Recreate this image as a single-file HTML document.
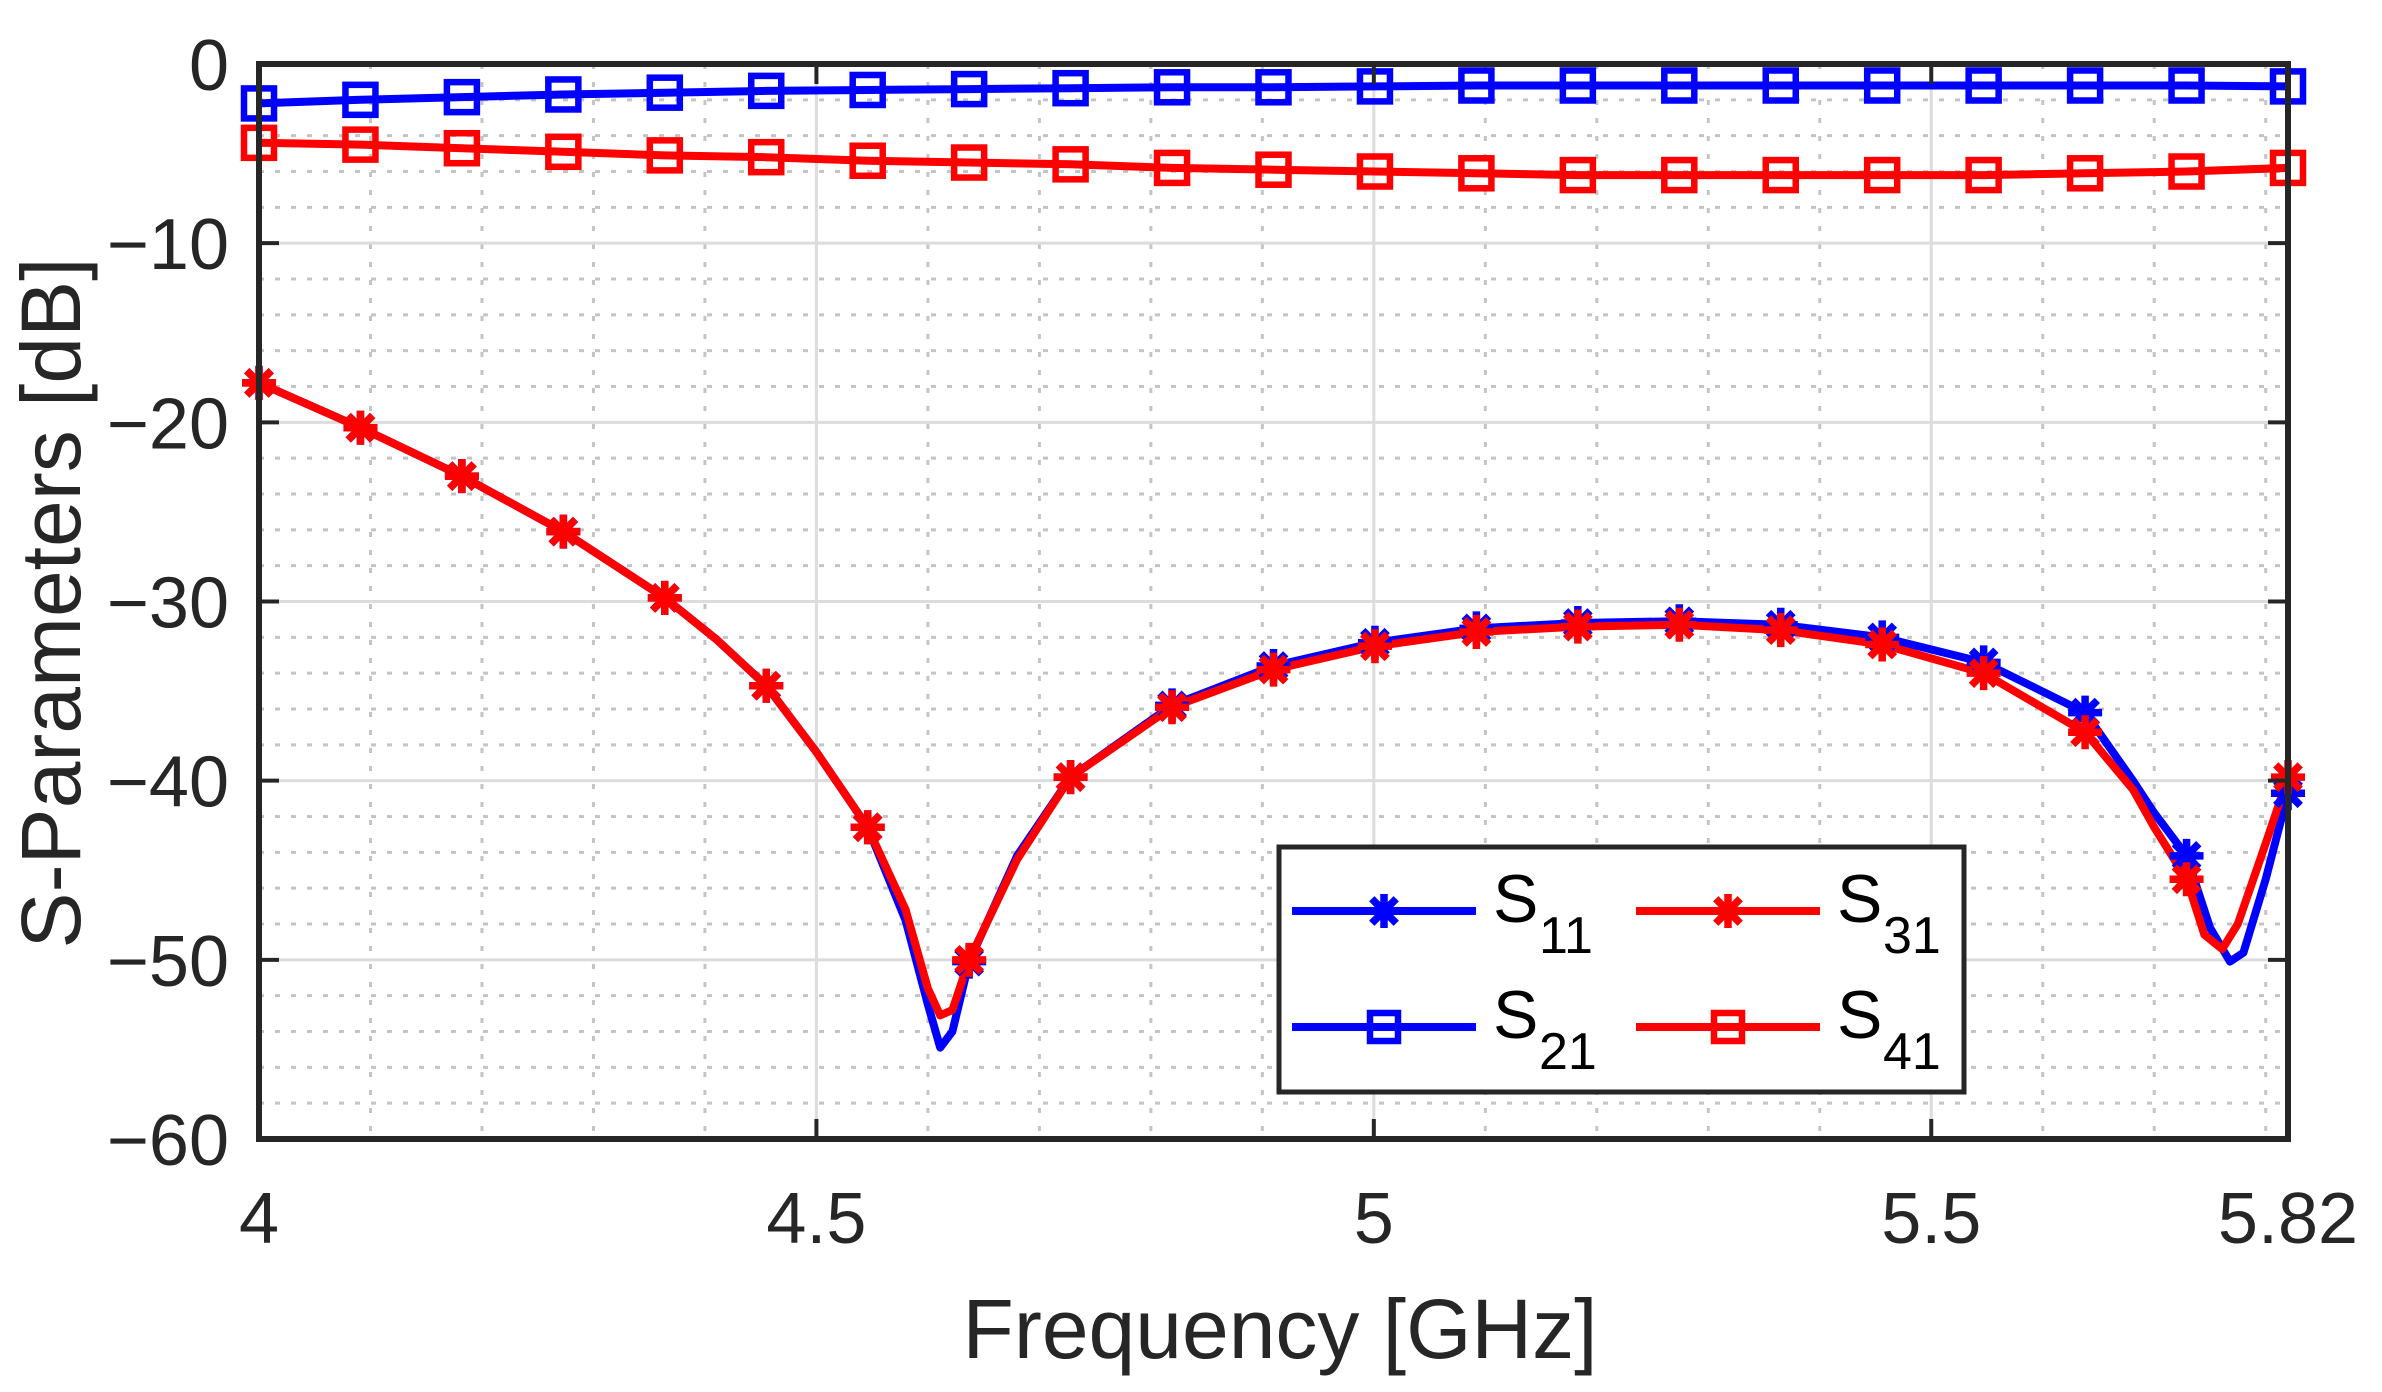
<!DOCTYPE html>
<html><head><meta charset="utf-8"><style>
html,body{margin:0;padding:0;background:#fff;}
svg{display:block;}
text{font-family:"Liberation Sans",Arial,sans-serif;fill:#262626;}
</style></head><body>
<svg id="s" width="2382" height="1392" viewBox="0 0 2382 1392" xmlns="http://www.w3.org/2000/svg">
<rect width="2382" height="1392" fill="#fff"/>
<g id="grid"></g>
<g id="data"></g>
<g id="axes"></g>
<g id="legend"></g>
</svg>
<script>
const NS="http://www.w3.org/2000/svg";
const L=259,R=2288,T=64,B=1139;
const X=f=>L+(f-4)*(R-L)/1.82;
const Y=d=>T-d*(B-T)/60;
function el(p,tag,a,txt){const e=document.createElementNS(NS,tag);for(const k in a)e.setAttribute(k,a[k]);if(txt!==undefined)e.textContent=txt;document.getElementById(p).appendChild(e);return e;}
for(let f=4.1;f<5.82;f+=0.1){if(Math.abs(f*2-Math.round(f*2))<1e-6)continue;el('grid','line',{x1:X(f),x2:X(f),y1:T,y2:B,stroke:'#c4c4c4','stroke-width':3,'stroke-dasharray':'5 13'});}
for(let d=-58;d<0;d+=2){if(d%10===0)continue;el('grid','line',{x1:L,x2:R,y1:Y(d),y2:Y(d),stroke:'#c4c4c4','stroke-width':3,'stroke-dasharray':'5 11'});}
for(const f of [4.5,5,5.5])el('grid','line',{x1:X(f),x2:X(f),y1:T,y2:B,stroke:'#dcdcdc','stroke-width':3});
for(let d=-50;d<0;d+=10)el('grid','line',{x1:L,x2:R,y1:Y(d),y2:Y(d),stroke:'#dcdcdc','stroke-width':3});
const fk=k=>4+0.091*k;
const s21=[-2.2,-2.0,-1.85,-1.7,-1.6,-1.5,-1.45,-1.4,-1.35,-1.3,-1.3,-1.25,-1.2,-1.2,-1.2,-1.2,-1.2,-1.2,-1.2,-1.2,-1.25];
const s41=[-4.4,-4.5,-4.7,-4.9,-5.1,-5.2,-5.4,-5.5,-5.6,-5.8,-5.9,-6.0,-6.1,-6.2,-6.2,-6.2,-6.2,-6.2,-6.1,-6.0,-5.8];
const s11m=[-17.8,-20.3,-23,-26.1,-29.8,-34.7,-42.6,-50.1,-39.8,-35.8,-33.6,-32.3,-31.5,-31.2,-31.1,-31.3,-32.0,-33.4,-36.2,-44.2,-40.7];
const s31m=[-17.8,-20.3,-23,-26.1,-29.8,-34.7,-42.6,-50.0,-39.8,-35.9,-33.8,-32.5,-31.7,-31.4,-31.3,-31.6,-32.4,-34.0,-37.3,-45.5,-39.8];
function pts(m,extra){let p=m.map((d,k)=>[fk(k),d]);p=p.concat(extra);p.sort((a,b)=>a[0]-b[0]);return p;}
const s11=pts(s11m,[[4.41,-32.1],[4.50,-38.4],[4.58,-47.8],[4.60,-52.5],[4.611,-54.9],[4.622,-54.0],[4.68,-44.2],[5.681,-40.0],[5.70,-41.8],[5.75,-48.2],[5.768,-50.1],[5.78,-49.6],[5.80,-45.5]]);
const s31=pts(s31m,[[4.41,-32.1],[4.50,-38.4],[4.58,-47.2],[4.60,-51.6],[4.611,-53.1],[4.622,-52.8],[4.68,-44.4],[5.681,-40.5],[5.70,-42.6],[5.745,-48.6],[5.761,-49.4],[5.775,-48.0],[5.80,-43.5]]);
function line(p,c){el('data','polyline',{points:p.map(q=>X(q[0]).toFixed(1)+','+Y(q[1]).toFixed(1)).join(' '),fill:'none',stroke:c,'stroke-width':8,'stroke-linejoin':'round'});}
function sq(x,y,c){el('data','rect',{x:x-15,y:y-15,width:30,height:30,fill:'none',stroke:c,'stroke-width':6.5});}
function ast(x,y,c,g){g=g||'data';const r=17;let d=`M${x-r},${y}H${x+r}M${x},${y-r}V${y+r}M${x-r*0.72},${y-r*0.72}L${x+r*0.72},${y+r*0.72}M${x-r*0.72},${y+r*0.72}L${x+r*0.72},${y-r*0.72}`;el(g,'path',{d:d,stroke:c,'stroke-width':7.5,fill:'none'});}
line(s21.map((d,k)=>[fk(k),d]),'#0000ff');
line(s41.map((d,k)=>[fk(k),d]),'#ff0000');
line(s11,'#0000ff');line(s31,'#ff0000');
s21.forEach((d,k)=>sq(X(fk(k)),Y(d),'#0000ff'));
s41.forEach((d,k)=>sq(X(fk(k)),Y(d),'#ff0000'));
s11m.forEach((d,k)=>ast(X(fk(k)),Y(d),'#0000ff'));
s31m.forEach((d,k)=>ast(X(fk(k)),Y(d),'#ff0000'));
el('axes','rect',{x:L,y:T,width:R-L,height:B-T,fill:'none',stroke:'#262626','stroke-width':6});
for(const f of [4.5,5,5.5]){el('axes','line',{x1:X(f),x2:X(f),y1:B,y2:B-20,stroke:'#262626','stroke-width':4});el('axes','line',{x1:X(f),x2:X(f),y1:T,y2:T+20,stroke:'#262626','stroke-width':4});}
for(let d=-50;d<0;d+=10){el('axes','line',{x1:L,x2:L+20,y1:Y(d),y2:Y(d),stroke:'#262626','stroke-width':4});el('axes','line',{x1:R,x2:R-20,y1:Y(d),y2:Y(d),stroke:'#262626','stroke-width':4});}
[[4,'4'],[4.5,'4.5'],[5,'5'],[5.5,'5.5'],[5.82,'5.82']].forEach(([f,t])=>el('axes','text',{x:X(f),y:1243,'font-size':72,'text-anchor':'middle'},t));
for(let d=0;d>=-60;d-=10)el('axes','text',{x:229,y:Y(d)+26,'font-size':72,'text-anchor':'end'},d===0?'0':'\u2212'+(-d));
el('axes','text',{x:1280,y:1358,'font-size':84,'text-anchor':'middle'},'Frequency [GHz]');
el('axes','text',{x:0,y:0,'font-size':84,'text-anchor':'middle',transform:'translate(80,603) rotate(-90)'},'S-Parameters [dB]');
el('legend','rect',{x:1279,y:847,width:685,height:245,fill:'#fff',stroke:'#262626','stroke-width':5});
function le(x0,y,c,mk,sub){el('legend','line',{x1:x0,x2:x0+184,y1:y,y2:y,stroke:c,'stroke-width':8});if(mk==='a')ast(x0+92,y,c,'legend');else el('legend','rect',{x:x0+92-14,y:y-14,width:28,height:28,fill:'none',stroke:c,'stroke-width':6.5});
el('legend','text',{x:x0+201,y:y+11,'font-size':68,style:'fill:#000'},'S');el('legend','text',{x:x0+247,y:y+42,'font-size':52,style:'fill:#000'},sub);}
le(1292,911,'#0000ff','a','11');le(1636,911,'#ff0000','a','31');
le(1292,1027,'#0000ff','s','21');le(1636,1027,'#ff0000','s','41');
</script>
</body></html>
